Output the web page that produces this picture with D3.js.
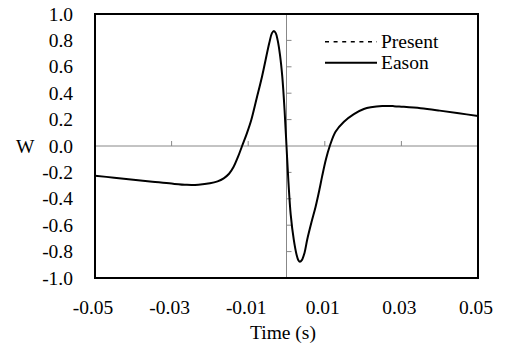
<!DOCTYPE html>
<html>
<head>
<meta charset="utf-8">
<script src="https://cdn.jsdelivr.net/npm/d3@7"></script>
<style>
  body { margin: 0; background: #fff; }
  text { font-family: "Liberation Serif", "Times New Roman", serif; }
</style>
</head>
<body>
<div id="chart"></div>
<script>
// time (s) and W (Eason; Present lies under it)
const time = [-0.05, -0.045, -0.04, -0.035, -0.03, -0.026, -0.023, -0.02, -0.018, -0.0164,
  -0.015, -0.0138, -0.0127, -0.0116, -0.0103, -0.0092, -0.0078, -0.0064, -0.0045, -0.0038,
  -0.0033, -0.0028, -0.0023, -0.0017, -0.0011, -0.0005, 0,
  0.0005, 0.0011, 0.0019, 0.0026, 0.0031, 0.0035, 0.004, 0.0047, 0.0054, 0.0065,
  0.0076, 0.0086, 0.0093, 0.0103, 0.0113, 0.0128, 0.015, 0.0176, 0.0202, 0.022,
  0.025, 0.028, 0.03, 0.035, 0.04, 0.045, 0.05];
const eason = [-0.225, -0.24, -0.255, -0.27, -0.285, -0.294, -0.293, -0.283, -0.268, -0.245,
  -0.21, -0.157, -0.085, 0, 0.1, 0.197, 0.36, 0.525, 0.78, 0.855,
  0.871, 0.855, 0.8, 0.69, 0.525, 0.27, 0,
  -0.27, -0.52, -0.71, -0.82, -0.865, -0.876, -0.865, -0.81, -0.71, -0.58,
  -0.46, -0.33, -0.23, -0.1, 0, 0.108, 0.184, 0.242, 0.28, 0.293,
  0.303, 0.302, 0.298, 0.286, 0.268, 0.248, 0.227];
const xTicks = [-0.05, -0.03, -0.01, 0.01, 0.03, 0.05];
const yTicks = [-1.0, -0.8, -0.6, -0.4, -0.2, 0.0, 0.2, 0.4, 0.6, 0.8, 1.0];
const legendNames = ["Present", "Eason"];

const width = 506, height = 348;
const margin = {top: 14, right: 28, bottom: 70, left: 95};

const svg = d3.select("#chart").append("svg")
    .attr("width", width)
    .attr("height", height);

const x = d3.scaleLinear().domain([-0.05, 0.05]).range([margin.left, width - margin.right]);
const y = d3.scaleLinear().domain([-1, 1]).range([height - margin.bottom, margin.top]);

// zero lines
svg.append("line")
    .attr("x1", x(-0.05)).attr("x2", x(0.05))
    .attr("y1", y(0)).attr("y2", y(0))
    .attr("stroke", "#888").attr("stroke-width", 1);
svg.append("line")
    .attr("x1", x(0)).attr("x2", x(0))
    .attr("y1", y(-1)).attr("y2", y(1))
    .attr("stroke", "#888").attr("stroke-width", 1);

// small ticks on the zero lines
svg.append("g").selectAll("line")
    .data(yTicks.filter(d => Math.abs(d) < 0.99 && d !== 0))
    .enter().append("line")
    .attr("x1", x(0)).attr("x2", x(0) + 5)
    .attr("y1", d => y(d)).attr("y2", d => y(d))
    .attr("stroke", "#888");
svg.append("g").selectAll("line")
    .data(xTicks.filter(d => Math.abs(d) < 0.049))
    .enter().append("line")
    .attr("x1", d => x(d)).attr("x2", d => x(d))
    .attr("y1", y(0)).attr("y2", y(0) - 5)
    .attr("stroke", "#888");

// curve
const pts = time.map((t, i) => [t, eason[i]]);
const line = d3.line()
    .x(d => x(d[0]))
    .y(d => y(d[1]))
    .curve(d3.curveCatmullRom.alpha(0.5));

svg.append("path")
    .datum(pts)
    .attr("d", line)
    .attr("fill", "none")
    .attr("stroke", "#000")
    .attr("stroke-width", 2);

// frame
svg.append("rect")
    .attr("x", x(-0.05)).attr("y", y(1))
    .attr("width", x(0.05) - x(-0.05))
    .attr("height", y(-1) - y(1))
    .attr("fill", "none")
    .attr("stroke", "#000")
    .attr("stroke-width", 2);

// y tick labels
svg.append("g").selectAll("text")
    .data(yTicks)
    .enter().append("text")
    .attr("x", 73)
    .attr("y", d => y(d))
    .attr("dy", "0.34em")
    .attr("text-anchor", "end")
    .attr("font-size", 19.5)
    .text(d => d3.format(".1f")(d).replace("−", "-"));

svg.append("text")
    .attr("x", 16)
    .attr("y", y(0))
    .attr("dy", "0.34em")
    .attr("font-size", 19.5)
    .text("W");

// x tick labels
svg.append("g").selectAll("text")
    .data(xTicks)
    .enter().append("text")
    .attr("x", d => x(d) - 2)
    .attr("y", 314)
    .attr("text-anchor", "middle")
    .attr("font-size", 19.5)
    .text(d => d3.format(".2f")(d).replace("−", "-"));

svg.append("text")
    .attr("x", 283)
    .attr("y", 339)
    .attr("text-anchor", "middle")
    .attr("font-size", 19.5)
    .text("Time (s)");

// legend
const legend = svg.append("g").selectAll("g")
    .data(legendNames)
    .enter().append("g")
    .attr("transform", (d, i) => "translate(325," + (41.7 + i * 21) + ")");

legend.append("line")
    .attr("x1", 0).attr("x2", 52)
    .attr("stroke", "#000")
    .attr("stroke-width", d => d === "Present" ? 1.5 : 2)
    .attr("stroke-dasharray", d => d === "Present" ? "4,4.6" : null);

legend.append("text")
    .attr("x", 56)
    .attr("dy", "0.32em")
    .attr("font-size", 19.5)
    .text(d => d);
</script>
</body>
</html>
